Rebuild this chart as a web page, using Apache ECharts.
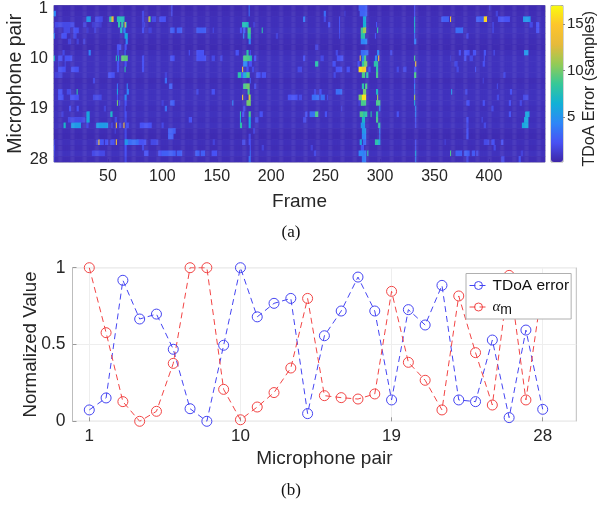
<!DOCTYPE html>
<html><head><meta charset="utf-8">
<style>html,body{margin:0;padding:0;background:#fff}#c{width:597px;height:505px}</style>
<script src="https://cdn.jsdelivr.net/npm/echarts@6/dist/echarts.min.js"></script>
</head><body><div id="c"></div>
<script>
const frameCount = 451;
const pairCount = 28;
const pairTicks = [1, 10, 19, 28];
const frameTickLast = 400;
const colorTicks = [5, 10, 15];
const colorMin = 0.2, colorMax = 17;
const parula = ['#3e26a8','#4852f4','#2e87f7','#12b1d6','#37c897','#93cb56','#e6ba3c','#fdc52c','#f9fb0e'];
// baseline TDoA error per microphone pair
const rowBase = [0.5,0.6,0.7,0.7,0.8,0.7,0.6,0.5,0.7,0.8,0.8,0.8,0.8,0.6,0.7,0.8,0.8,0.8,0.7,0.8,0.7,0.8,0.6,0.5,0.7,0.6,0.8,0.6];
// per pair: runs of frames [first, last, error]
const row1 = [[109,109,2.3],[180,180,3.4],[281,288,2.8],[332,332,2.3],[401,401,1.6]];
const row2 = [[0,2,4.4],[82,83,1.9],[109,109,2.3],[180,180,3.4],[249,250,3.4],[268,268,1.4],[282,288,3],[332,332,2.3],[407,408,1.6]];
const row3 = [[31,34,5.2],[39,45,1.9],[52,53,8],[54,55,13],[59,65,7.5],[82,83,1.9],[88,88,14],[89,89,9],[91,94,1.9],[98,103,2.3],[230,231,4],[249,250,1.9],[263,263,2.3],[285,287,6],[332,332,6],[357,363,2.8],[365,365,14],[389,395,2.8],[396,398,15.5],[409,412,2.3],[413,415,2.3],[416,419,2.3],[432,438,5.2]];
const row4 = [[2,19,1.9],[28,30,1.6],[36,44,1.4],[60,61,8],[63,64,8],[66,66,15],[67,67,7],[82,84,1.6],[174,178,7.5],[179,179,7],[184,185,1.4],[253,254,2.3],[263,263,2.3],[285,287,6.5],[297,297,2.3],[332,332,7],[404,404,2.3],[438,440,1.9],[444,446,2.3]];
const row5 = [[1,1,1.6],[10,15,1.9],[19,23,2.3],[31,32,1.4],[38,39,1.6],[62,63,7],[65,66,4.4],[82,83,2.3],[88,90,1.6],[108,111,2.8],[114,118,2.8],[132,140,2.8],[147,147,1.9],[172,173,2.3],[175,176,2.8],[179,181,9],[192,192,8],[263,263,2.3],[283,285,9],[285,287,11],[298,298,8],[332,332,6],[370,376,3.4],[404,404,2.3],[444,446,2.3]];
const row6 = [[0,1,4.4],[8,12,2.3],[19,21,1.9],[66,68,6],[175,175,4.4],[179,181,8],[205,206,1.6],[263,263,1.9],[283,286,8],[296,296,2.3],[332,332,3.4],[380,381,1.9]];
const row7 = [[14,16,1.6],[22,23,1.6],[28,29,1.6],[67,68,4.4],[180,181,4.4],[283,286,4.4],[287,288,4.4],[332,333,4]];
const row8 = [[59,62,2.3],[66,67,2.3],[241,243,1.6]];
const row9 = [[9,10,1.9],[33,34,4.4],[59,60,1.9],[66,66,3.4],[125,125,2.3],[132,138,2.3],[168,170,2.3],[178,179,8],[181,181,2.3],[260,261,1.9],[283,287,3.4],[288,289,3.4],[298,299,4.4],[310,311,1.9],[373,374,2.3],[378,382,2.3],[386,388,2.3],[396,397,2.4],[405,405,2.3],[433,436,5.2]];
const row10 = [[0,1,7],[5,8,2.3],[11,17,2.3],[58,58,8],[60,60,6],[63,68,9.5],[82,83,2.3],[108,111,2.3],[132,140,2.3],[146,148,1.9],[154,155,1.9],[175,180,9],[181,182,7.5],[185,186,2.3],[230,231,2.3],[246,248,1.9],[261,266,2.3],[282,282,13],[284,285,4.4],[286,287,9],[296,297,4.4],[299,299,14],[332,332,9],[365,365,1.4],[378,379,2.3],[383,385,1.9],[396,396,2.3]];
const row11 = [[5,5,1.6],[11,11,1.9],[59,60,2.3],[66,67,2.3],[82,83,2.3],[175,178,4.4],[180,182,2.3],[241,243,8],[257,259,2.3],[280,281,2.3],[284,285,8],[286,288,10],[295,298,8],[333,333,14],[369,371,1.9],[395,396,2.3]];
const row12 = [[5,11,2.3],[17,23,2.3],[59,60,2.3],[66,66,8],[82,83,2.3],[174,174,14],[178,179,2.3],[183,184,1.9],[225,228,1.9],[260,265,2.3],[270,272,2.3],[281,283,16],[284,287,15],[290,291,2.3],[297,298,8],[316,317,1.9],[322,324,1.9],[332,333,2.3],[371,372,1.9],[388,388,2.3]];
const row13 = [[2,5,1.6],[6,8,1.6],[51,56,2.3],[103,104,1.6],[170,172,8],[173,174,2.8],[175,177,6],[178,180,9],[187,190,2.3],[192,195,2.3],[258,259,1.9],[284,286,9],[288,289,8],[297,298,9],[332,333,9],[414,415,1.9]];
const row14 = [[37,38,1.9],[103,104,3.4],[181,181,2.8],[332,332,2.3],[395,395,1.6]];
const row15 = [[59,59,3.4],[68,68,4.4],[107,109,2.8],[175,177,9],[178,180,10],[185,186,1.9],[284,285,8],[287,288,9],[332,332,4.4],[408,408,1.9]];
const row16 = [[5,8,2.3],[13,16,1.9],[22,22,8],[59,59,6],[68,69,4.4],[132,133,1.9],[146,148,2.3],[179,180,9],[240,241,1.9],[245,246,2.3],[260,265,3.4],[285,287,10],[297,298,7],[332,332,3.4],[366,366,5.2],[379,380,1.9],[420,421,2.3]];
const row17 = [[5,9,2.3],[16,23,2.3],[37,44,1.9],[59,59,2.3],[66,67,4.4],[174,174,14],[180,180,15],[181,181,10],[216,224,2.3],[226,228,1.9],[238,244,3.4],[246,249,3.4],[252,252,1.9],[281,283,10],[284,287,16],[298,298,11],[332,332,11],[408,409,1.9],[432,436,1.9]];
const row18 = [[59,59,10],[61,61,2.3],[66,67,2.3],[100,101,1.6],[108,111,2.8],[165,165,4.4],[178,181,10],[281,281,1.9],[283,287,9],[297,300,9],[332,332,6],[380,382,2.3],[395,396,2.3],[419,420,2.3],[429,430,1.9]];
const row19 = [[15,16,2.3],[22,23,2.3],[47,48,1.6],[66,66,2.3],[103,104,3.4],[175,176,1.9],[265,265,1.6],[300,300,4.4],[333,333,4.4],[403,404,1.9]];
const row20 = [[8,9,1.6],[31,33,6],[53,54,7],[66,67,2.3],[172,172,8],[174,175,2.3],[180,181,9],[190,192,2.3],[232,233,2.3],[236,240,3.4],[241,243,9],[250,251,2.3],[282,285,9],[285,288,8],[292,292,8],[297,298,8],[316,317,2.3],[333,333,4.4],[419,420,2.4],[434,437,6]];
const row21 = [[14,29,1.9],[31,33,6],[57,58,1.9],[66,67,1.9],[125,127,2.3],[172,172,6],[180,181,6],[186,188,1.9],[230,232,1.9],[284,286,7],[297,298,9],[333,333,2.6],[380,381,2.3],[394,394,1.9],[433,436,6]];
const row22 = [[10,11,7],[17,25,5.4],[31,32,1.9],[40,50,5.4],[54,54,2.3],[58,58,14],[61,62,2.3],[65,65,14],[67,69,2.3],[80,90,2.3],[100,101,1.9],[172,173,8],[180,181,6],[283,286,5.2],[299,300,8],[333,333,2.3],[380,381,1.9],[396,397,1.9],[431,436,6]];
const row23 = [[57,57,1.6],[66,67,1.9],[106,112,2.8],[184,185,1.6],[284,287,5.2],[300,300,4.4],[380,381,2.3]];
const row24 = [[66,67,1.9],[106,110,2.8],[180,181,1.9],[284,287,4.4],[300,300,3.4],[380,381,2.4]];
const row25 = [[0,1,1.6],[40,41,1.9],[42,42,14],[43,46,2.4],[48,50,2.3],[53,56,2.3],[58,58,14],[66,68,5.2],[69,78,3.4],[79,85,2.3],[90,96,1.9],[147,148,1.6],[174,176,1.9],[180,181,2.3],[282,283,6],[285,287,3.4],[296,298,8],[299,300,6],[333,333,2.3],[360,360,1.6],[396,400,1.9],[403,405,2.3],[412,413,2.3]];
const row26 = [[0,1,2.3],[66,67,2.3],[82,83,1.9],[181,181,2.3],[192,193,1.6],[237,238,1.6],[283,285,2.4],[333,333,2.3],[405,406,1.9]];
const row27 = [[0,1,1.6],[36,47,1.9],[66,67,2.3],[84,87,2.3],[97,99,2.3],[100,112,2.8],[114,118,2.8],[131,134,2.8],[136,139,2.8],[146,150,2.3],[181,181,3.4],[240,241,1.9],[281,284,4.4],[285,287,4],[289,289,8],[333,333,6],[365,365,9],[370,375,2.8],[378,382,2.8],[385,387,2.6],[389,390,1.9],[430,431,1.6]];
const row28 = [[0,1,1.4],[66,67,1.9],[180,181,3.4],[284,287,4],[333,333,4],[380,381,1.9],[412,414,1.9],[428,429,2.4]];
const pairRuns = [row1,row2,row3,row4,row5,row6,row7,row8,row9,row10,row11,row12,row13,row14,row15,row16,row17,row18,row19,row20,row21,row22,row23,row24,row25,row26,row27,row28];

const pairAxis = [0,1,2,3,4,5,6,7,8,9,10,11,12,13,14,15,16,17,18,19,20,21,22,23,24,25,26,27,28,29,30];
const tdoaError = [0.074,0.152,0.918,0.666,0.698,0.469,0.082,0,0.495,1,0.68,0.768,0.80,0.05,0.557,0.718,0.939,0.718,0.139,0.727,0.627,0.885,0.139,0.128,0.529,0.024,0.594,0.078];
const alphaM = [1,0.577,0.128,0,0.065,0.377,1,1,0.208,0.01,0.093,0.187,0.347,0.80,0.167,0.154,0.145,0.178,0.846,0.384,0.267,0.074,0.816,0.447,0.106,0.95,0.139,0.89];

const frames = Array.from({length: frameCount}, (_, i) => i + 1);
const pairs = Array.from({length: pairCount}, (_, i) => i + 1);
const cells = [];
pairs.forEach((p, r) => {
  const line = new Array(frameCount).fill(rowBase[r]);
  pairRuns[r].forEach(([a, b, v]) => { for (let f = Math.max(a, 1); f <= b && f <= frameCount; f++) line[f - 1] = v; });
  line.forEach((v, i) => cells.push([i, r, v]));
});

const FONT = '"Liberation Sans", Arial, sans-serif';
const TXT = '#262626', BOX = '#a6a6a6';
const BLUE = '#4545f2', RED = '#f24545';
const pairLabel = (v) => pairTicks.includes(Number(v));
const frameLabel = (i, v) => Number(v) % 50 === 0 && Number(v) <= frameTickLast;

const chart = echarts.init(document.getElementById('c'), null, {renderer: 'canvas'});
const lineSeries = (name, vals, col) => ({
  name, type: 'line', xAxisIndex: 1, yAxisIndex: 1,
  data: vals.map((v, i) => [String(i + 1), v]),
  symbol: 'circle', symbolSize: 10, showSymbol: true, animation: false,
  lineStyle: {color: col, width: 1, type: [6, 4]},
  itemStyle: {color: 'rgba(255,255,255,0)', borderColor: col, borderWidth: 1}
});
chart.setOption({
  animation: false,
  backgroundColor: '#fff',
  title: [
    {text: '(a)', left: 291, top: 233, textAlign: 'center', textVerticalAlign: 'middle', padding: 0, textStyle: {fontFamily: '"Liberation Serif", serif', fontSize: 17, fontWeight: 'normal', color: '#111'}},
    {text: '(b)', left: 291, top: 491, textAlign: 'center', textVerticalAlign: 'middle', padding: 0, textStyle: {fontFamily: '"Liberation Serif", serif', fontSize: 17, fontWeight: 'normal', color: '#111'}}
  ],
  grid: [
    {left: 54, top: 5.5, width: 491, height: 156.5, show: true, borderColor: BOX, borderWidth: 1, outerBoundsMode: 'none'},
    {left: 72.5, top: 267.7, width: 503.8, height: 153.6, show: true, borderColor: '#bdbdbd', borderWidth: 1, backgroundColor: '#fff', outerBoundsMode: 'none'},
    {left: 551, top: 5.5, width: 12, height: 156.5, show: true, borderColor: BOX, borderWidth: 1, outerBoundsMode: 'none'}
  ],
  xAxis: [
    {type: 'category', gridIndex: 0, data: frames, boundaryGap: true, name: 'Frame', nameLocation: 'middle', nameGap: 30,
     nameTextStyle: {fontFamily: FONT, fontSize: 19, color: TXT},
     axisLine: {show: false},
     axisTick: {show: true, inside: true, length: 3, alignWithLabel: true, interval: frameLabel, lineStyle: {color: '#444'}},
     axisLabel: {interval: frameLabel, fontFamily: FONT, fontSize: 16, color: TXT, margin: 7},
     splitLine: {show: false}},
    {type: 'category', gridIndex: 1, data: pairAxis, boundaryGap: false, name: 'Microphone pair', nameLocation: 'middle', nameGap: 28,
     nameTextStyle: {fontFamily: FONT, fontSize: 19, color: TXT},
     axisLine: {show: false},
     axisTick: {show: true, inside: true, length: 4, alignWithLabel: true, interval: (i, v) => pairLabel(v), lineStyle: {color: '#999'}},
     axisLabel: {interval: (i, v) => pairLabel(v), fontFamily: FONT, fontSize: 17, color: TXT, margin: 7},
     splitLine: {show: true, interval: (i, v) => pairLabel(v), lineStyle: {color: '#eeeeee', width: 1}}},
    {type: 'category', gridIndex: 2, data: [''], show: false}
  ],
  yAxis: [
    {type: 'category', gridIndex: 0, data: pairs, inverse: true, name: 'Microphone pair', nameLocation: 'middle', nameGap: 28, nameMoveOverlap: false,
     nameTextStyle: {fontFamily: FONT, fontSize: 19.5, color: TXT},
     axisLine: {show: false},
     axisTick: {show: true, inside: true, length: 3, alignWithLabel: true, interval: (i, v) => pairLabel(v), lineStyle: {color: '#444'}},
     axisLabel: {interval: (i, v) => pairLabel(v), fontFamily: FONT, fontSize: 16.5, color: TXT, margin: 6},
     splitLine: {show: false}},
    {type: 'value', gridIndex: 1, min: 0, max: 1, interval: 0.5, name: 'Normalized Value', nameLocation: 'middle', nameGap: 32, nameMoveOverlap: false,
     nameTextStyle: {fontFamily: FONT, fontSize: 18.7, color: TXT},
     axisLine: {show: false},
     axisTick: {show: true, inside: true, length: 4, lineStyle: {color: '#999'}},
     axisLabel: {fontFamily: FONT, fontSize: 17.5, color: TXT, margin: 7, formatter: (v) => String(v)},
     splitLine: {show: true, lineStyle: {color: '#eeeeee', width: 1}}},
    {type: 'value', gridIndex: 2, position: 'right', min: colorMin, max: colorMax, name: 'TDoA Error (samples)', nameLocation: 'middle', nameGap: 19, nameRotate: 90, nameMoveOverlap: false,
     nameTextStyle: {fontFamily: FONT, fontSize: 16, color: TXT, padding: [0, 10, 0, 0]},
     axisLine: {show: false},
     axisTick: {show: true, inside: false, length: 2, customValues: colorTicks, lineStyle: {color: '#888'}},
     axisLabel: {customValues: colorTicks, fontFamily: FONT, fontSize: 15, color: TXT, margin: 4},
     splitLine: {show: false}}
  ],
  visualMap: {
    type: 'continuous', seriesIndex: 0, min: colorMin, max: colorMax, calculable: false, show: true,
    left: 551, top: 5.5, itemWidth: 12, itemHeight: 156.5, padding: 0, text: null, showLabel: false,
    inRange: {color: parula}, textStyle: {fontSize: 0}
  },
  legend: {
    left: 466, top: 273.5, orient: 'vertical', padding: [4, 2, 2, 3], itemWidth: 18, itemHeight: 10, itemGap: 6,
    backgroundColor: '#fff', borderColor: '#b0b0b0', borderWidth: 1, align: 'left',
    selectedMode: false, lineStyle: {width: 1}, itemStyle: {borderWidth: 1},
    formatter: (n) => n === 'αm' ? '{a|α}{m|m}' : n,
    textStyle: {fontFamily: FONT, fontSize: 15.5, color: '#111', padding: [0, 0, 0, 0],
      rich: {a: {fontFamily: '"Liberation Serif", serif', fontStyle: 'italic', fontSize: 15, color: '#111'},
             m: {fontFamily: FONT, fontSize: 14, color: '#111', padding: [6, 0, 0, 0]}}},
    data: ['TDoA error', 'αm']
  },
  series: [
    {type: 'heatmap', xAxisIndex: 0, yAxisIndex: 0, data: cells, progressive: 0, animation: false, itemStyle: {borderWidth: 0}, emphasis: {disabled: true}},
    lineSeries('TDoA error', tdoaError, BLUE),
    lineSeries('αm', alphaM, RED)
  ]
});
</script></body></html>
